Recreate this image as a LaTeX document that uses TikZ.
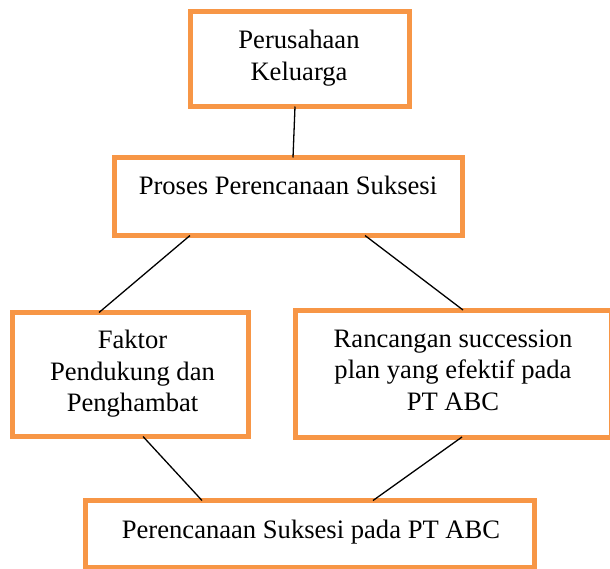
\documentclass[tikz,border=0pt]{standalone}
\usepackage{fontspec}
\setmainfont{Liberation Serif}
\definecolor{boxorange}{HTML}{F79646}
\tikzset{
  framebox/.style={draw=boxorange, line width=5pt, rectangle, inner sep=0pt, outer sep=0pt, fill=white},
  label text/.style={inner sep=0pt, outer sep=0pt, align=center, anchor=base, font=\fontsize{26.6}{31.5}\selectfont},
  link/.style={draw=black, line width=1.3pt}
}
\begin{document}
\begin{tikzpicture}[x=1pt, y=-1pt]
\useasboundingbox (0,0) rectangle (610,568);
% boxes
\node[framebox, minimum width=219pt, minimum height=95pt] (b1) at (300,59) {};
\node[framebox, minimum width=348pt, minimum height=78pt] (b2) at (288.5,196.5) {};
\node[framebox, minimum width=236pt, minimum height=124pt] (b3) at (130.5,374.5) {};
\node[framebox, minimum width=316pt, minimum height=127pt] (b4) at (453,373.5) {};
\node[framebox, minimum width=449pt, minimum height=66.5pt] (b5) at (310,533.75) {};
% texts
\node[label text] (t1) at (299,80) {Perusahaan\\Keluarga};
\node[label text] (t2) at (288,194) {Proses Perencanaan Suksesi};
\node[label text] (t3) at (132.5,411.7) {Faktor\\Pendukung dan\\Penghambat};
\node[label text] (t4) at (453,410) {Rancangan succession\\plan yang efektif pada\\PT ABC};
\node[label text] (t5) at (311,538.3) {Perencanaan Suksesi pada PT ABC};
% connectors
\draw[link] ([xshift=-5pt]b1.south) -- ([xshift=4.5pt]b2.north);
\draw[link] ([xshift=-98.5pt]b2.south) -- ([xshift=-31.5pt]b3.north);
\draw[link] ([xshift=76.5pt]b2.south) -- ([xshift=10pt]b4.north);
\draw[link] ([xshift=12.5pt]b3.south) -- ([xshift=-108pt]b5.north);
\draw[link] ([xshift=9pt]b4.south) -- ([xshift=63pt]b5.north);
\end{tikzpicture}
\end{document}
